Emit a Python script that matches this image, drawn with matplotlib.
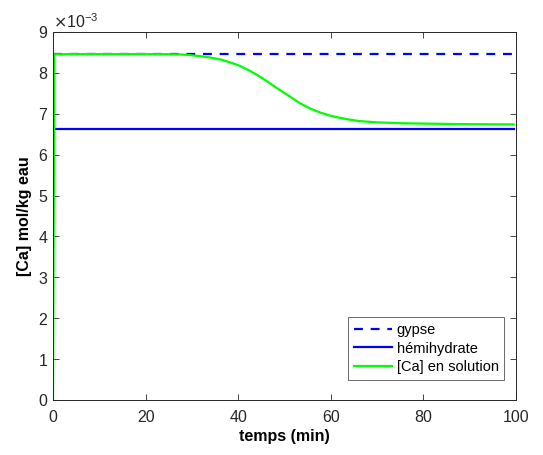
import matplotlib
matplotlib.use("Agg")
import matplotlib.pyplot as plt
import numpy as np

plt.rcParams['font.family'] = ['Liberation Sans', 'DejaVu Sans']

# data (mol/kg eau)
t_range = [0, 99.5]
gypse = 8.47e-3
hemihydrate = 6.63e-3
t_ca = [0, 0.3, 5, 10, 20, 24, 27.4, 29.5, 31.7, 34, 36.1, 38.2, 40.4, 42.5, 44.7, 46.8, 49.0, 51.2, 53.3, 55.5, 57.7, 59.8, 62.0, 64.2, 66.3, 70, 75, 80, 90, 99.5]
ca = [0, 8.455, 8.46, 8.46, 8.46, 8.458, 8.452, 8.435, 8.41, 8.375, 8.33, 8.26, 8.17, 8.05, 7.91, 7.75, 7.58, 7.42, 7.26, 7.13, 7.03, 6.955, 6.90, 6.855, 6.82, 6.79, 6.77, 6.76, 6.745, 6.74]
ca = [v * 1e-3 for v in ca]

xticks = [0, 20, 40, 60, 80, 100]
yticks = [i * 1e-3 for i in range(10)]

fig = plt.figure(figsize=(5.43, 4.55), dpi=100)
ax = fig.add_axes([53/543, 55/455, 463/543, 368/455])

ax.plot(t_range, [gypse, gypse], '--', color=(0, 0, 1), lw=1.6, dashes=(4, 3.5), label='gypse')
ax.plot(t_range, [hemihydrate, hemihydrate], '-', color=(0, 0, 1), lw=1.6, label='hémihydrate')
ax.plot(t_ca, ca, '-', color=(0, 1, 0), lw=1.6, label='[Ca] en solution')

ax.set_xlim(0, 100)
ax.set_ylim(0, 9e-3)
ax.set_xticks(xticks)
ax.set_yticks(yticks)
ax.ticklabel_format(axis='y', style='sci', scilimits=(-3, -3), useMathText=True)
ax.yaxis.get_offset_text().set_fontsize(11.5)
ax.tick_params(direction='in', top=True, right=True, labelsize=11.5, colors='#262626', length=4, width=0.6)
ax.tick_params(axis='x', pad=7)
for s in ax.spines.values():
    s.set_color('#262626')
    s.set_linewidth(0.7)

ax.set_xlabel('temps (min)', fontsize=11.5, fontweight='bold', labelpad=3)
ax.set_ylabel('[Ca] mol/kg eau', fontsize=11.5, fontweight='bold', labelpad=4)

leg = ax.legend(loc='lower right', bbox_to_anchor=(0.975, 0.055), fontsize=10.5, frameon=True,
                fancybox=False, edgecolor='#262626', handlelength=2.6, handletextpad=0.3,
                borderpad=0.4, labelspacing=0.3, borderaxespad=0)
leg.get_frame().set_linewidth(0.6)

fig.savefig('out.png', dpi=100)
